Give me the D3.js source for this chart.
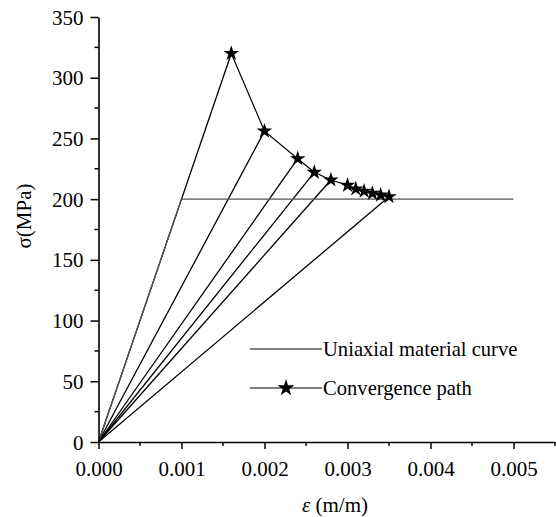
<!DOCTYPE html>
<html>
<head>
<meta charset="utf-8">
<script src="https://cdn.jsdelivr.net/npm/d3@7"></script>
<style>
  html, body { margin: 0; padding: 0; background: #fff; }
  svg text { font-family: "Liberation Serif", "DejaVu Serif", serif; fill: #000; }
</style>
</head>
<body>
<svg id="chart" width="556" height="517"></svg>
<script>
// Uniaxial material curve (elastic - perfectly plastic), strain in m/m, stress in MPa
const uniaxialStrain = [0.0, 0.001, 0.005];
const uniaxialStress = [0, 200, 200];

// Convergence path iterates
const pathStrain = [0.0016, 0.0020, 0.0024, 0.0026, 0.0028, 0.0030, 0.0031, 0.0032, 0.0033, 0.0034, 0.0035];
const pathStress = [320, 256, 233.3, 222.1, 215.8, 211.4, 208.4, 206.5, 204.8, 203.4, 202];

// Iterates joined back to the origin by secant lines
const secantIndex = [0, 1, 2, 3, 4, 10];

const xTicks = [0, 0.001, 0.002, 0.003, 0.004, 0.005];
const xMinorTicks = [0.0005, 0.0015, 0.0025, 0.0035, 0.0045, 0.0055];
const yTicks = [0, 50, 100, 150, 200, 250, 300, 350];
const yMinorTicks = [25, 75, 125, 175, 225, 275, 325];

const FS = 21;
const svg = d3.select("#chart");
const x = d3.scaleLinear().domain([0, 0.0055]).range([98.5, 555]);
const y = d3.scaleLinear().domain([0, 350]).range([442, 17]);

// secant lines from origin
svg.append("g").selectAll("line").data(secantIndex).join("line")
  .attr("x1", x(0)).attr("y1", y(0))
  .attr("x2", i => x(pathStrain[i])).attr("y2", i => y(pathStress[i]))
  .attr("stroke", "#000").attr("stroke-width", 1.3);

// uniaxial material curve
const uni = d3.range(uniaxialStrain.length).map(i => [uniaxialStrain[i], uniaxialStress[i]]);
svg.append("path").datum(uni)
  .attr("d", d3.line().x(d => x(d[0])).y(d => y(d[1])))
  .attr("fill", "none").attr("stroke", "#555").attr("stroke-width", 1.2);

// convergence path
const conv = d3.range(pathStrain.length).map(i => [pathStrain[i], pathStress[i]]);
svg.append("path").datum(conv)
  .attr("d", d3.line().x(d => x(d[0])).y(d => y(d[1])))
  .attr("fill", "none").attr("stroke", "#000").attr("stroke-width", 1.2);
const star = d3.symbol().type(d3.symbolStar).size(75);
svg.append("g").selectAll("path").data(conv).join("path")
  .attr("d", star)
  .attr("transform", d => `translate(${x(d[0])},${y(d[1])})`)
  .attr("fill", "#000");

// axes
const xAxis = svg.append("g").attr("transform", `translate(0,${y(0)})`)
  .call(d3.axisBottom(x).tickValues(xTicks).tickFormat(d3.format(".3f")).tickSizeInner(7).tickSizeOuter(0));
xAxis.append("g").selectAll("line").data(xMinorTicks).join("line")
  .attr("x1", d => x(d)).attr("x2", d => x(d)).attr("y1", 0).attr("y2", 4)
  .attr("stroke", "#000").attr("stroke-width", 1.5);

const yAxis = svg.append("g").attr("transform", `translate(${x(0)},0)`)
  .call(d3.axisLeft(y).tickValues(yTicks).tickFormat(d3.format("d")).tickSizeInner(8).tickSizeOuter(0));
yAxis.append("g").selectAll("line").data(yMinorTicks).join("line")
  .attr("x1", 0).attr("x2", -4).attr("y1", d => y(d)).attr("y2", d => y(d))
  .attr("stroke", "#000").attr("stroke-width", 1.5);

svg.selectAll(".domain").attr("stroke", "#000").attr("stroke-width", 1.6);
svg.selectAll(".tick line").attr("stroke", "#000").attr("stroke-width", 1.5);
svg.selectAll(".tick text").attr("font-family", "Liberation Serif").attr("font-size", FS).attr("fill", "#000");
xAxis.selectAll(".tick text").attr("dy", 0).attr("y", 34);
yAxis.selectAll(".tick text").attr("x", -15).attr("dy", "0.34em");

// axis titles
svg.append("text")
  .attr("transform", `translate(31,216) rotate(-90)`)
  .attr("text-anchor", "middle").attr("font-size", FS)
  .text("σ(MPa)");
const xt = svg.append("text").attr("x", 335).attr("y", 512)
  .attr("text-anchor", "middle").attr("font-size", FS);
xt.append("tspan").attr("font-style", "italic").text("ε");
xt.append("tspan").text(" (m/m)");

// legend
const lg = svg.append("g");
lg.append("line").attr("x1", 250).attr("x2", 322).attr("y1", 349).attr("y2", 349)
  .attr("stroke", "#000").attr("stroke-width", 1.2);
lg.append("text").attr("x", 323).attr("y", 356).attr("font-size", 20.6).text("Uniaxial material curve");
lg.append("line").attr("x1", 250).attr("x2", 322).attr("y1", 388).attr("y2", 388)
  .attr("stroke", "#000").attr("stroke-width", 1.2);
lg.append("path").attr("d", d3.symbol().type(d3.symbolStar).size(90))
  .attr("transform", "translate(286,388)").attr("fill", "#000");
lg.append("text").attr("x", 323).attr("y", 395).attr("font-size", 20.6).text("Convergence path");
</script>
</body>
</html>
